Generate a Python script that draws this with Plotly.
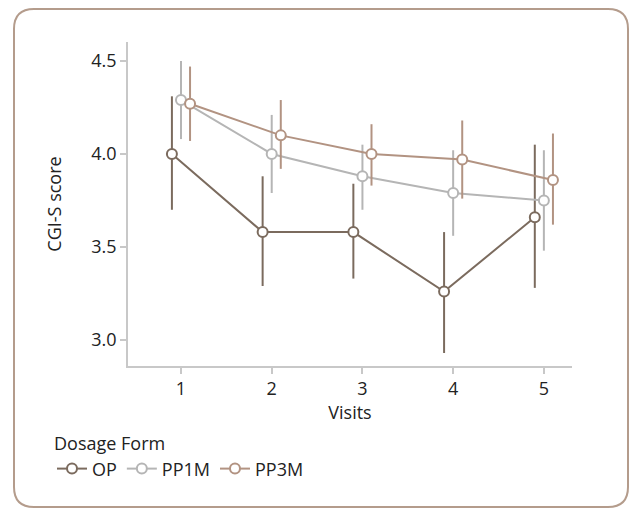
import plotly.graph_objects as go

visits = [1, 2, 3, 4, 5]
series = ["OP", "PP1M", "PP3M"]
op_mean = [4.00, 3.58, 3.58, 3.26, 3.66]
op_lo = [3.70, 3.29, 3.33, 2.93, 3.28]
op_hi = [4.31, 3.88, 3.84, 3.58, 4.05]
pp1m_mean = [4.29, 4.00, 3.88, 3.79, 3.75]
pp1m_lo = [4.08, 3.79, 3.70, 3.56, 3.48]
pp1m_hi = [4.50, 4.21, 4.05, 4.02, 4.02]
pp3m_mean = [4.27, 4.10, 4.00, 3.97, 3.86]
pp3m_lo = [4.07, 3.92, 3.83, 3.76, 3.62]
pp3m_hi = [4.47, 4.29, 4.16, 4.18, 4.11]
x_ticks = [1, 2, 3, 4, 5]
y_ticks = [3.0, 3.5, 4.0, 4.5]

colors = {"OP": "#7b6b5e", "PP1M": "#b5b5b5", "PP3M": "#b29382"}
offsets = {"OP": -0.1, "PP1M": 0.0, "PP3M": 0.1}
data = {
    "OP": (op_mean, op_lo, op_hi),
    "PP1M": (pp1m_mean, pp1m_lo, pp1m_hi),
    "PP3M": (pp3m_mean, pp3m_lo, pp3m_hi),
}

FONT = "Open Sans"
FS = 18
fig = go.Figure()
for name in series:
    m, lo, hi = data[name]
    c = colors[name]
    fig.add_trace(go.Scatter(
        x=[v + offsets[name] for v in visits], y=m, name=name,
        mode="lines+markers",
        line=dict(color=c, width=2),
        marker=dict(symbol="circle", size=10, color="white", line=dict(color=c, width=2)),
        error_y=dict(type="data", symmetric=False,
                     array=[h - a for h, a in zip(hi, m)],
                     arrayminus=[a - l for a, l in zip(m, lo)],
                     color=c, thickness=2, width=0),
    ))

W, H = 632, 509
L, R, T, B = 128, 60, 42, 143
pw, ph = W - L - R, H - T - B

def px(x):
    return (x - L) / pw

def py(y):
    return (H - B - y) / ph

x0, x1, y0, y1, r = 14, 628, 9, 507, 20
path = (f"M {px(x0 + r)} {py(y0)} L {px(x1 - r)} {py(y0)} "
        f"Q {px(x1)} {py(y0)} {px(x1)} {py(y0 + r)} "
        f"L {px(x1)} {py(y1 - r)} Q {px(x1)} {py(y1)} {px(x1 - r)} {py(y1)} "
        f"L {px(x0 + r)} {py(y1)} Q {px(x0)} {py(y1)} {px(x0)} {py(y1 - r)} "
        f"L {px(x0)} {py(y0 + r)} Q {px(x0)} {py(y0)} {px(x0 + r)} {py(y0)} Z")

fig.update_layout(
    width=W, height=H,
    margin=dict(l=L, r=R, t=T, b=B, pad=0),
    paper_bgcolor="white", plot_bgcolor="white",
    font=dict(family=FONT, size=FS, color="#222222"),
    showlegend=True,
    legend=dict(orientation="h", x=px(52), y=py(427), xanchor="left", yanchor="top",
                title=dict(text="Dosage Form", side="top", font=dict(size=FS)),
                font=dict(size=FS), itemwidth=30, tracegroupgap=0),
    xaxis=dict(range=[0.416, 5.31], tickvals=x_ticks, ticktext=[str(v) for v in x_ticks],
               showgrid=False, zeroline=False, showline=True, linecolor="#c8c8c8", linewidth=1.5,
               ticks="outside", ticklen=6, tickcolor="#c8c8c8", tickwidth=1.5,
               tickfont=dict(size=FS),
               title=dict(text="Visits", standoff=2, font=dict(size=FS))),
    yaxis=dict(range=[2.86, 4.602], tickvals=y_ticks, ticktext=[f"{v:.1f}" for v in y_ticks],
               showgrid=False, zeroline=False, showline=True, linecolor="#c8c8c8", linewidth=1.5,
               ticks="outside", ticklen=6, tickcolor="#c8c8c8", tickwidth=1.5,
               tickfont=dict(size=FS),
               title=dict(text="CGI-S score", standoff=25, font=dict(size=FS))),
    shapes=[dict(type="path", xref="paper", yref="paper", path=path,
                 line=dict(color="#b49c8c", width=2), fillcolor="rgba(0,0,0,0)", layer="below")],
)
fig.write_html("out.html", config={"displayModeBar": False},
               post_script="document.body.style.margin='0px';")
